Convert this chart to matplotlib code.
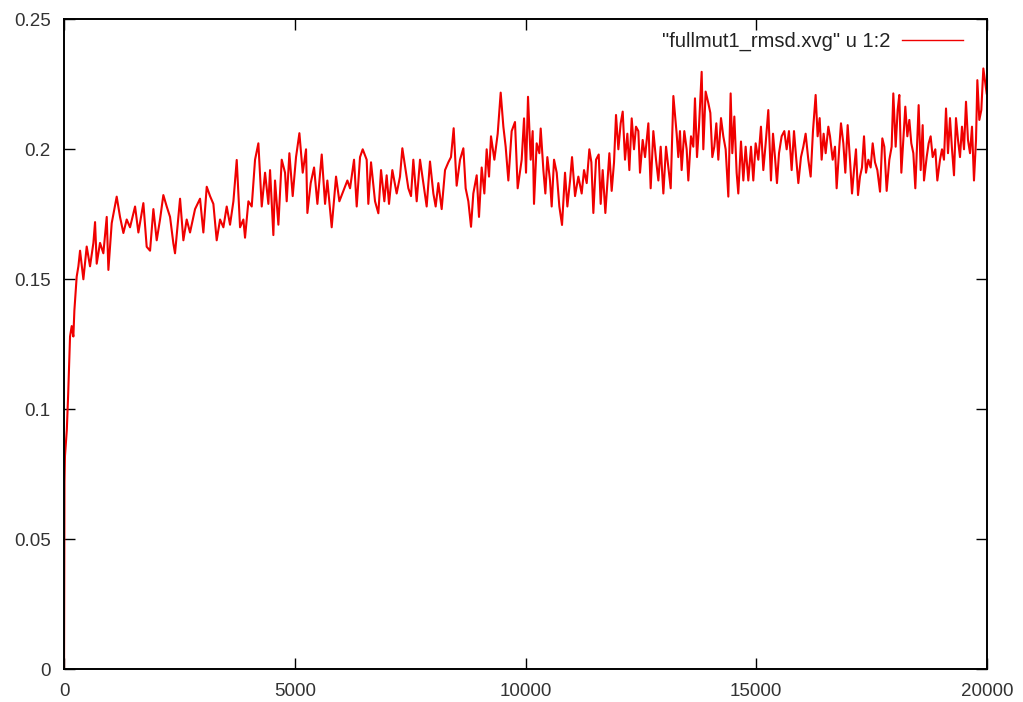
import matplotlib
matplotlib.use("Agg")
import matplotlib.pyplot as plt
from matplotlib.ticker import FormatStrFormatter, MultipleLocator

# time (ps) and rmsd (nm)
t_start = [0, 10, 20, 60, 90, 130, 166, 202, 224, 274, 311]
r_start = [0.0, 0.072, 0.082, 0.092, 0.106, 0.128, 0.132, 0.128, 0.138, 0.151, 0.155]

t_a = [347, 419, 491, 563, 636, 672, 708, 780, 852, 925, 961, 1033, 1141, 1213,
       1286, 1358, 1430, 1539, 1611, 1719, 1791, 1864, 1936, 2008, 2080, 2152,
       2225, 2297, 2369, 2405, 2514, 2586, 2658, 2730, 2839, 2947, 3019, 3092]
r_a = [0.161, 0.150, 0.1626, 0.155, 0.164, 0.172, 0.156, 0.164, 0.160, 0.174,
       0.1536, 0.1716, 0.1818, 0.174, 0.1678, 0.173, 0.170, 0.178, 0.168, 0.1793,
       0.1625, 0.161, 0.177, 0.165, 0.173, 0.1824, 0.178, 0.174, 0.1638, 0.160,
       0.181, 0.165, 0.173, 0.168, 0.177, 0.181, 0.168, 0.1856]

t_b = [3164, 3236, 3308, 3381, 3453, 3525, 3597, 3670, 3742, 3814, 3886, 3922,
       3995, 4067, 4139, 4211, 4284, 4356, 4428, 4464, 4536, 4572, 4645, 4717,
       4789, 4825, 4883, 4955, 5027, 5100, 5172, 5244, 5273, 5345, 5418, 5490,
       5584, 5656, 5706, 5800, 5894, 5966, 6053, 6140, 6198, 6284, 6342, 6414, 6472]
r_b = [0.182, 0.179, 0.165, 0.173, 0.170, 0.178, 0.171, 0.180, 0.1959, 0.170,
       0.173, 0.166, 0.180, 0.178, 0.196, 0.2023, 0.178, 0.191, 0.179, 0.192,
       0.167, 0.188, 0.171, 0.196, 0.191, 0.180, 0.1985, 0.182, 0.197, 0.2062,
       0.191, 0.200, 0.1755, 0.187, 0.193, 0.179, 0.198, 0.179, 0.188, 0.170,
       0.1895, 0.180, 0.184, 0.188, 0.185, 0.196, 0.178, 0.197, 0.200]

t_c = [6558, 6594, 6652, 6739, 6811, 6869, 6941, 6991, 7042, 7114, 7208, 7280,
       7331, 7403, 7461, 7519, 7569, 7642, 7714, 7786, 7858, 7930, 8003, 8053,
       8111, 8183, 8256, 8328, 8385, 8443, 8508, 8581, 8653, 8703, 8761, 8819,
       8869, 8942, 8992, 9050, 9108, 9158, 9209, 9252, 9325, 9397, 9462, 9520,
       9570, 9628, 9700, 9772, 9830]
r_c = [0.196, 0.179, 0.195, 0.180, 0.1754, 0.192, 0.180, 0.190, 0.179, 0.192,
       0.183, 0.1895, 0.2004, 0.192, 0.185, 0.182, 0.196, 0.180, 0.196, 0.187,
       0.178, 0.1953, 0.183, 0.178, 0.187, 0.177, 0.192, 0.195, 0.197, 0.2081,
       0.186, 0.196, 0.2004, 0.185, 0.180, 0.1702, 0.183, 0.190, 0.174, 0.193,
       0.183, 0.200, 0.1895, 0.205, 0.196, 0.206, 0.2218, 0.2087, 0.201, 0.188,
       0.207, 0.2105, 0.185]

t_d = [9917, 9968, 10011, 10054, 10112, 10155, 10184, 10242, 10300, 10329,
       10387, 10430, 10473, 10531, 10567, 10618, 10676, 10733, 10791, 10856,
       10907, 10965, 11008, 11073, 11145, 11217, 11268, 11326, 11383, 11427,
       11470, 11528, 11586, 11629, 11672, 11730, 11773, 11817, 11867, 11918,
       11961, 12012, 12062, 12106, 12156, 12207, 12250, 12301, 12351, 12394,
       12445, 12481, 12539, 12590, 12662, 12712, 12770, 12828, 12879, 12929,
       12987, 13045, 13095, 13146, 13204]
r_d = [0.196, 0.2119, 0.191, 0.2202, 0.196, 0.207, 0.179, 0.2023, 0.1985, 0.208,
       0.192, 0.183, 0.197, 0.188, 0.178, 0.196, 0.191, 0.178, 0.1709, 0.191,
       0.178, 0.188, 0.197, 0.182, 0.1895, 0.183, 0.192, 0.187, 0.200, 0.195,
       0.1755, 0.196, 0.198, 0.179, 0.192, 0.1755, 0.187, 0.1985, 0.184, 0.195,
       0.2132, 0.200, 0.210, 0.2145, 0.196, 0.206, 0.192, 0.2119, 0.200, 0.2087,
       0.207, 0.191, 0.2036, 0.197, 0.210, 0.185, 0.207, 0.196, 0.188, 0.201,
       0.183, 0.201, 0.193, 0.185, 0.2205]

t_e = [13275, 13311, 13347, 13383, 13441, 13492, 13528, 13586, 13636, 13672,
       13716, 13759, 13817, 13853, 13903, 13961, 14005, 14048, 14091, 14135,
       14178, 14236, 14286, 14337, 14395, 14445, 14481, 14525, 14575, 14611,
       14669, 14720, 14770, 14828, 14886, 14936, 14987, 15045, 15102, 15153,
       15204, 15261, 15319, 15363, 15406, 15449, 15493, 15550, 15608, 15659,
       15709, 15767, 15818, 15868, 15912, 15969, 16020, 16070, 16128, 16179,
       16229, 16287, 16330, 16374, 16417, 16460, 16504, 16562]
r_e = [0.206, 0.197, 0.207, 0.192, 0.207, 0.200, 0.188, 0.205, 0.201, 0.2196,
       0.197, 0.2087, 0.2298, 0.200, 0.2222, 0.2178, 0.214, 0.197, 0.201, 0.210,
       0.196, 0.212, 0.205, 0.200, 0.1818, 0.2215, 0.1985, 0.2126, 0.191, 0.183,
       0.203, 0.188, 0.201, 0.188, 0.201, 0.188, 0.2023, 0.196, 0.2087, 0.192,
       0.2023, 0.2151, 0.188, 0.206, 0.197, 0.187, 0.1985, 0.205, 0.207, 0.200,
       0.207, 0.192, 0.207, 0.196, 0.187, 0.197, 0.201, 0.206, 0.196, 0.1895,
       0.207, 0.2209, 0.205, 0.212, 0.196, 0.206, 0.1985, 0.2087]

t_f = [16598, 16656, 16706, 16742, 16800, 16836, 16887, 16930, 16981, 17031,
       17075, 17118, 17161, 17205, 17248, 17291, 17335, 17378, 17429, 17479,
       17523, 17573, 17624, 17682, 17732, 17775, 17826, 17884, 17934, 17970,
       18021, 18064, 18100, 18144, 18187, 18230, 18274, 18317, 18360, 18404,
       18447, 18490, 18519, 18563, 18606, 18635, 18693, 18736, 18779, 18823,
       18880, 18924, 18982, 19025, 19068, 19112, 19155, 19198, 19242, 19285,
       19328, 19372, 19415, 19458, 19502, 19545, 19588, 19632, 19675, 19718,
       19762, 19791, 19834, 19877, 19921, 19964, 19993]
r_f = [0.205, 0.196, 0.201, 0.185, 0.201, 0.210, 0.2023, 0.191, 0.2093, 0.196,
       0.183, 0.192, 0.200, 0.1824, 0.1895, 0.193, 0.205, 0.191, 0.196, 0.193,
       0.2023, 0.195, 0.192, 0.1837, 0.2042, 0.201, 0.184, 0.196, 0.201, 0.2215,
       0.201, 0.2151, 0.2209, 0.191, 0.2036, 0.2164, 0.205, 0.2113, 0.2023, 0.1985,
       0.185, 0.2036, 0.217, 0.192, 0.2093, 0.188, 0.197, 0.2023, 0.205, 0.197,
       0.200, 0.188, 0.196, 0.200, 0.196, 0.2157, 0.1985, 0.212, 0.200, 0.190,
       0.212, 0.2036, 0.197, 0.2087, 0.200, 0.2183, 0.2036, 0.1985, 0.2087, 0.188,
       0.2036, 0.2266, 0.2113, 0.2151, 0.2311, 0.2253, 0.2215]

time = t_start + t_a + t_b + t_c + t_d + t_e + t_f
rmsd = r_start + r_a + r_b + r_c + r_d + r_e + r_f

plt.rcParams['font.family'] = ['Liberation Sans', 'DejaVu Sans']

fig = plt.figure(figsize=(10.23, 7.02), dpi=100)
ax = fig.add_axes([0.0626, 0.0466, 0.9022, 0.9259])

ax.plot(time, rmsd, color='#f00000', lw=1.5, label='"fullmut1_rmsd.xvg" u 1:2')

ax.set_xlim(0, 20000)
ax.set_ylim(0, 0.25)
ax.xaxis.set_major_locator(MultipleLocator(5000))
ax.yaxis.set_major_locator(MultipleLocator(0.05))
ax.yaxis.set_major_formatter(FormatStrFormatter('%g'))
ax.tick_params(direction='in', length=8, width=1, top=True, right=True,
               labelsize=13.5, colors='black', labelcolor='#333333')
ax.tick_params(axis='y', pad=9.5)
ax.tick_params(axis='x', pad=10)
for s in ax.spines.values():
    s.set_linewidth(1.4)

leg = ax.legend(loc='upper right', bbox_to_anchor=(0.9825, 0.993), frameon=False,
                markerfirst=False, handlelength=3.0, handletextpad=0.6,
                fontsize=14.5, borderaxespad=0)
for h in leg.get_lines():
    h.set_linewidth(1.0)
for txt in leg.get_texts():
    txt.set_color('#222222')

fig.savefig('out.png', dpi=100)
